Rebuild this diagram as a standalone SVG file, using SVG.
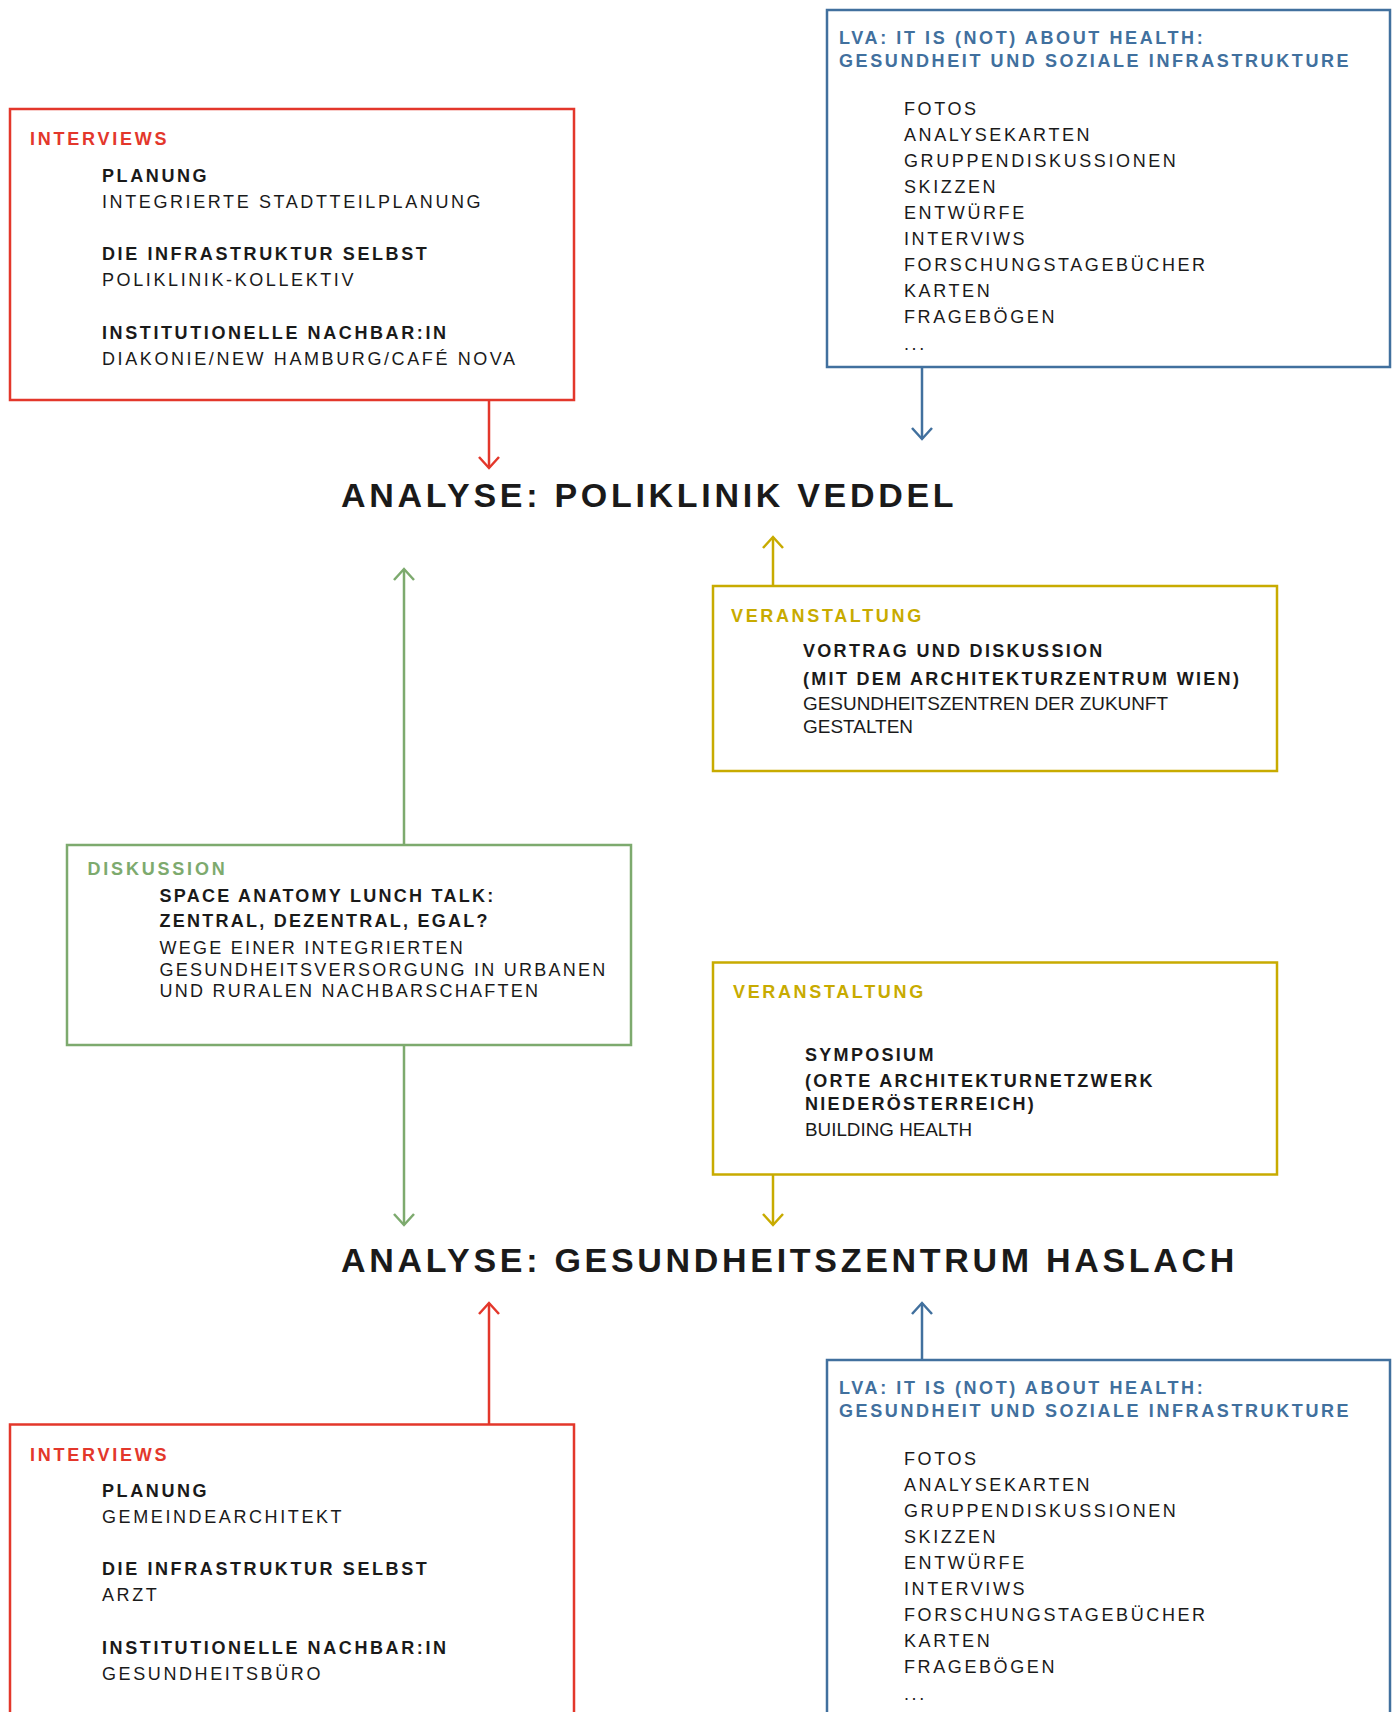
<svg xmlns="http://www.w3.org/2000/svg" width="1400" height="1712" viewBox="0 0 1400 1712">
<style>
text{font-family:"Liberation Sans",Arial,sans-serif;font-size:18px;letter-spacing:2.6px;fill:#1a1a1a}
.b{font-weight:bold}
.red{fill:#e3372b;font-weight:bold;letter-spacing:2.75px}
.blue{fill:#41709e;font-weight:bold;letter-spacing:2.6px}
.yel{fill:#c8ab00;font-weight:bold;letter-spacing:2.65px}
.grn{fill:#7daa6e;font-weight:bold;letter-spacing:2.8px}
.yb{font-weight:bold;letter-spacing:2.3px}
.gb{font-weight:bold;letter-spacing:2.25px}
.gr{letter-spacing:2.25px}
.n{font-size:19px;letter-spacing:0}
.h{font-size:34px;font-weight:bold;letter-spacing:3.7px}
.box{fill:none;stroke-width:2.5}
.sr{stroke:#e3372b}.sb{stroke:#41709e}.sy{stroke:#c8ab00}.sg{stroke:#7daa6e}
.con line{stroke-width:2.5}
</style>
<defs>
<marker id="ar" viewBox="-14 -13 16 26" refX="0" refY="0" markerWidth="16" markerHeight="26" markerUnits="userSpaceOnUse" orient="auto"><path d="M-11,-10 L0,0 L-11,10" fill="none" stroke="#e3372b" stroke-width="2.5"/></marker>
<marker id="ab" viewBox="-14 -13 16 26" refX="0" refY="0" markerWidth="16" markerHeight="26" markerUnits="userSpaceOnUse" orient="auto"><path d="M-11,-10 L0,0 L-11,10" fill="none" stroke="#41709e" stroke-width="2.5"/></marker>
<marker id="ay" viewBox="-14 -13 16 26" refX="0" refY="0" markerWidth="16" markerHeight="26" markerUnits="userSpaceOnUse" orient="auto"><path d="M-11,-10 L0,0 L-11,10" fill="none" stroke="#c8ab00" stroke-width="2.5"/></marker>
<marker id="ag" viewBox="-14 -13 16 26" refX="0" refY="0" markerWidth="16" markerHeight="26" markerUnits="userSpaceOnUse" orient="auto"><path d="M-11,-10 L0,0 L-11,10" fill="none" stroke="#7daa6e" stroke-width="2.5"/></marker>
</defs>
<rect width="1400" height="1712" fill="#ffffff"/>

<g id="connectors" class="con">
<line x1="489" y1="400" x2="489" y2="468" class="sr" marker-end="url(#ar)"/>
<line x1="922" y1="367" x2="922" y2="439" class="sb" marker-end="url(#ab)"/>
<line x1="773" y1="585" x2="773" y2="537" class="sy" marker-end="url(#ay)"/>
<line x1="404" y1="844" x2="404" y2="569" class="sg" marker-end="url(#ag)"/>
<line x1="404" y1="1045" x2="404" y2="1225" class="sg" marker-end="url(#ag)"/>
<line x1="773" y1="1175" x2="773" y2="1225" class="sy" marker-end="url(#ay)"/>
<line x1="489" y1="1424" x2="489" y2="1303" class="sr" marker-end="url(#ar)"/>
<line x1="922" y1="1360" x2="922" y2="1303" class="sb" marker-end="url(#ab)"/>
</g>

<g id="interviews-veddel">
<rect x="10" y="109" width="564" height="291" class="box sr"/>
<text x="30" y="145" class="red">INTERVIEWS</text>
<text x="102" y="181.5" class="b">PLANUNG</text>
<text x="102" y="207.5">INTEGRIERTE STADTTEILPLANUNG</text>
<text x="102" y="260" class="b">DIE INFRASTRUKTUR SELBST</text>
<text x="102" y="286">POLIKLINIK-KOLLEKTIV</text>
<text x="102" y="339" class="b">INSTITUTIONELLE NACHBAR:IN</text>
<text x="102" y="365">DIAKONIE/NEW HAMBURG/CAFÉ NOVA</text>
</g>

<g id="lva-veddel">
<rect x="827" y="10" width="563" height="357" class="box sb"/>
<text x="839" y="44.3" class="blue">LVA: IT IS (NOT) ABOUT HEALTH:</text>
<text x="839" y="66.7" class="blue">GESUNDHEIT UND SOZIALE INFRASTRUKTURE</text>
<text x="904" y="115">FOTOS</text>
<text x="904" y="141">ANALYSEKARTEN</text>
<text x="904" y="167">GRUPPENDISKUSSIONEN</text>
<text x="904" y="193">SKIZZEN</text>
<text x="904" y="219">ENTWÜRFE</text>
<text x="904" y="245">INTERVIWS</text>
<text x="904" y="271">FORSCHUNGSTAGEBÜCHER</text>
<text x="904" y="297">KARTEN</text>
<text x="904" y="323">FRAGEBÖGEN</text>
<text x="904" y="350">...</text>
</g>

<g id="analyse-veddel">
<text x="341" y="507" class="h">ANALYSE: POLIKLINIK VEDDEL</text>
</g>

<g id="veranstaltung-wien">
<rect x="713" y="586" width="564" height="185" class="box sy"/>
<text x="731" y="621.5" class="yel">VERANSTALTUNG</text>
<text x="803" y="657.3" class="yb">VORTRAG UND DISKUSSION</text>
<text x="803" y="684.7" class="yb">(MIT DEM ARCHITEKTURZENTRUM WIEN)</text>
<text x="803" y="710" class="n" textLength="365" lengthAdjust="spacingAndGlyphs">GESUNDHEITSZENTREN DER ZUKUNFT</text>
<text x="803" y="732.7" class="n" textLength="110" lengthAdjust="spacingAndGlyphs">GESTALTEN</text>
</g>

<g id="diskussion">
<rect x="67" y="845" width="564" height="200" class="box sg"/>
<text x="87.5" y="875" class="grn">DISKUSSION</text>
<text x="159.5" y="901.7" class="gb">SPACE ANATOMY LUNCH TALK:</text>
<text x="159.5" y="927.3" class="gb">ZENTRAL, DEZENTRAL, EGAL?</text>
<text x="159.5" y="954" class="gr">WEGE EINER INTEGRIERTEN</text>
<text x="159.5" y="975.7" class="gr">GESUNDHEITSVERSORGUNG IN URBANEN</text>
<text x="159.5" y="997" class="gr">UND RURALEN NACHBARSCHAFTEN</text>
</g>

<g id="veranstaltung-symposium">
<rect x="713" y="962.5" width="564" height="212" class="box sy"/>
<text x="733" y="998.3" class="yel">VERANSTALTUNG</text>
<text x="805" y="1061" class="yb">SYMPOSIUM</text>
<text x="805" y="1086.7" class="yb">(ORTE ARCHITEKTURNETZWERK</text>
<text x="805" y="1110" class="yb">NIEDERÖSTERREICH)</text>
<text x="805" y="1136" class="n" textLength="167" lengthAdjust="spacingAndGlyphs">BUILDING HEALTH</text>
</g>

<g id="analyse-haslach">
<text x="341" y="1272" class="h">ANALYSE: GESUNDHEITSZENTRUM HASLACH</text>
</g>

<g id="interviews-haslach">
<rect x="10" y="1424.5" width="564" height="320" class="box sr"/>
<text x="30" y="1461" class="red">INTERVIEWS</text>
<text x="102" y="1497" class="b">PLANUNG</text>
<text x="102" y="1523">GEMEINDEARCHITEKT</text>
<text x="102" y="1575" class="b">DIE INFRASTRUKTUR SELBST</text>
<text x="102" y="1601">ARZT</text>
<text x="102" y="1654" class="b">INSTITUTIONELLE NACHBAR:IN</text>
<text x="102" y="1680">GESUNDHEITSBÜRO</text>
</g>

<g id="lva-haslach">
<rect x="827" y="1360" width="563" height="380" class="box sb"/>
<text x="839" y="1394.3" class="blue">LVA: IT IS (NOT) ABOUT HEALTH:</text>
<text x="839" y="1416.7" class="blue">GESUNDHEIT UND SOZIALE INFRASTRUKTURE</text>
<text x="904" y="1465">FOTOS</text>
<text x="904" y="1491">ANALYSEKARTEN</text>
<text x="904" y="1517">GRUPPENDISKUSSIONEN</text>
<text x="904" y="1543">SKIZZEN</text>
<text x="904" y="1569">ENTWÜRFE</text>
<text x="904" y="1595">INTERVIWS</text>
<text x="904" y="1621">FORSCHUNGSTAGEBÜCHER</text>
<text x="904" y="1647">KARTEN</text>
<text x="904" y="1673">FRAGEBÖGEN</text>
<text x="904" y="1700">...</text>
</g>
</svg>
